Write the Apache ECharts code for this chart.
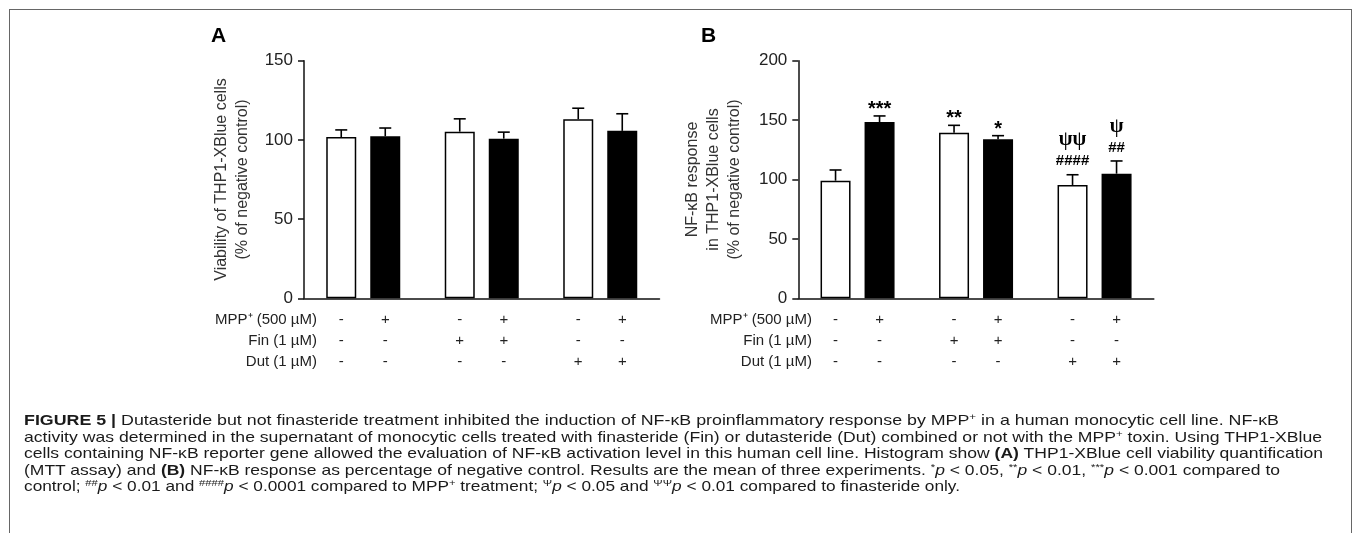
<!DOCTYPE html>
<html lang="en">
<head>
  <meta charset="UTF-8">
  <title>Figure 5</title>
  <style>
    html, body { margin: 0; padding: 0; background: #fff; }
    #wrap { position: relative; width: 1355px; height: 533px; overflow: hidden; }
    #chart { position: absolute; left: 0; top: 0; width: 1355px; height: 533px; }
    #frame { position: absolute; left: 9px; top: 9px; width: 1341px; height: 600px; border: 1.5px solid #666; pointer-events: none; }
    #caption { position: absolute; left: 24px; top: 0; font-family: 'Liberation Sans Narrow', 'Liberation Sans', Arial, sans-serif; font-size: 15px; color: #1a1a1a; }
    #caption .ln { position: absolute; left: 0; white-space: nowrap; transform-origin: 0 50%; line-height: 16px; }
    #caption sup { font-size: 0.65em; line-height: 0; vertical-align: 0; position: relative; top: -0.5em; }
  </style>
</head>
<body>
  <div id="wrap">
    <div id="chart"></div>
    <div id="frame"></div>
    <div id="caption"></div>
  </div>

  <script src="https://cdn.jsdelivr.net/npm/echarts@6.0.0/dist/echarts.min.js"></script>
  <script>
    // groups on the x axis (white bar = no MPP+, black bar = MPP+)
    var groups = ['Control', 'Fin', 'Dut'];

    // treatment table under the bars, one entry per bar
    var mppSigns = ['-', '+', '-', '+', '-', '+'];
    var finSigns = ['-', '-', '+', '+', '-', '-'];
    var dutSigns = ['-', '-', '-', '-', '+', '+'];
    var rowLabels = ['MPP\u207a (500 \u00b5M)', 'Fin (1 \u00b5M)', 'Dut (1 \u00b5M)'];

    // panel A: viability (% of negative control)
    var viaCtrl = [101.8, 105.2, 113.1];
    var viaCtrlErr = [4.5, 8.1, 6.9];
    var viaMpp = [102.3, 100.8, 105.7];
    var viaMppErr = [5.2, 4.1, 10.8];

    // panel B: NF-kB response (% of negative control)
    var nfCtrl = [99.0, 139.4, 95.4];
    var nfCtrlErr = [9.0, 6.2, 8.6];
    var nfMpp = [148.4, 133.8, 104.9];
    var nfMppErr = [5.1, 3.1, 10.7];

    // significance marks in panel B
    var starCtrl = ['', '**', ''];
    var starMpp = ['***', '*', ''];
    var psiCtrl = ['', '', '\u03c8\u03c8'];
    var psiMpp = ['', '', '\u03c8'];
    var hashCtrl = ['', '', '####'];
    var hashMpp = ['', '', '##'];

    var ticksA = [0, 150, 50];
    var ticksB = [0, 200, 50];

    var BAR_W = 30;
    var GAP = 0.467;
    var OFFSET = BAR_W * (1 + GAP) / 2;
    var ROW_DY = [22, 43, 64];
    var FONT = "'Liberation Sans', Arial, sans-serif";

    var RICH = {
      star: { fontFamily: FONT, fontSize: 20, fontWeight: 'bold', color: '#111', lineHeight: 21 },
      psi: { fontFamily: "'Liberation Serif', 'DejaVu Serif', serif", fontSize: 20, fontWeight: 'bold', color: '#111', lineHeight: 21 },
      hash: { fontFamily: FONT, fontSize: 15, fontWeight: 'bold', color: '#111', lineHeight: 21 }
    };

    function markText(stars, psis, hashes, i) {
      if (stars[i]) return '{star|' + stars[i] + '}';
      if (psis[i]) return '{psi|' + psis[i] + '}\n{hash|' + hashes[i] + '}';
      return '';
    }

    function errorSeries(ax, vals, errs, side, marks) {
      return {
        type: 'custom',
        xAxisIndex: ax,
        yAxisIndex: ax,
        z: 5,
        silent: true,
        data: vals.map(function (v, i) { return [i, v, v + errs[i]]; }),
        encode: { x: 0, y: 2 },
        renderItem: function (params, api) {
          var i = params.dataIndex;
          var lo = api.coord([i, api.value(1)]);
          var hi = api.coord([i, api.value(2)]);
          var x = lo[0] + side * OFFSET;
          var kids = [
            { type: 'line', shape: { x1: x, y1: lo[1], x2: x, y2: hi[1] }, style: { stroke: '#000', lineWidth: 1.6 } },
            { type: 'line', shape: { x1: x - 6, y1: hi[1], x2: x + 6, y2: hi[1] }, style: { stroke: '#000', lineWidth: 1.6 } }
          ];
          var t = marks ? marks(i) : '';
          if (t) {
            var isStar = t.indexOf('{star') === 0;
            kids.push({
              type: 'text',
              x: x,
              y: hi[1] + (isStar ? 4 : -3),
              style: { text: t, rich: RICH, align: 'center', verticalAlign: 'bottom' }
            });
          }
          return { type: 'group', children: kids };
        }
      };
    }

    function signSeries(ax) {
      return {
        type: 'custom',
        xAxisIndex: ax,
        yAxisIndex: ax,
        silent: true,
        data: mppSigns.map(function (s, k) { return [Math.floor(k / 2), 0, k]; }),
        encode: { x: 0, y: 1 },
        renderItem: function (params, api) {
          var k = api.value(2);
          var p = api.coord([api.value(0), 0]);
          var x = p[0] + (k % 2 ? 1 : -1) * OFFSET;
          var rows = [mppSigns, finSigns, dutSigns];
          return {
            type: 'group',
            children: rows.map(function (r, j) {
              return {
                type: 'text',
                x: x,
                y: p[1] + ROW_DY[j],
                style: { text: r[k], fontFamily: FONT, fontSize: 15, fill: '#222', align: 'center', verticalAlign: 'middle' }
              };
            })
          };
        }
      };
    }

    function barSeries(ax, vals, filled) {
      return {
        type: 'bar',
        xAxisIndex: ax,
        yAxisIndex: ax,
        data: vals,
        barWidth: BAR_W,
        barGap: (GAP * 100) + '%',
        silent: true,
        itemStyle: { color: filled ? '#000' : '#fff', borderColor: '#000', borderWidth: 1.5 }
      };
    }

    function yAxisOf(grid, ticks, name, gap) {
      return {
        type: 'value',
        gridIndex: grid,
        min: ticks[0],
        max: ticks[1],
        interval: ticks[2],
        name: name,
        nameLocation: 'middle',
        nameRotate: 90,
        nameGap: gap,
        nameTextStyle: { fontFamily: FONT, fontSize: 16, color: '#333', lineHeight: 21 },
        axisLine: { show: true, lineStyle: { color: '#111', width: 1.5 } },
        axisTick: { show: true, length: 6, lineStyle: { color: '#111', width: 1.5 } },
        axisLabel: { fontFamily: FONT, fontSize: 17, color: '#222', margin: 11 },
        splitLine: { show: false }
      };
    }

    function xAxisOf(grid) {
      return {
        type: 'category',
        gridIndex: grid,
        data: groups,
        axisLine: { show: true, lineStyle: { color: '#111', width: 1.5 } },
        axisTick: { show: false },
        axisLabel: { show: false }
      };
    }

    function rowLabelGraphics(right) {
      return rowLabels.map(function (t, j) {
        return {
          type: 'text',
          x: right,
          y: 298.3 + ROW_DY[j],
          style: { text: t, fontFamily: FONT, fontSize: 15, fill: '#222', align: 'right', verticalAlign: 'middle' }
        };
      });
    }

    var chart = echarts.init(document.getElementById('chart'));

    var option = {
      animation: false,
      grid: [
        { left: 304, top: 60.7, width: 355.5, height: 237.6 },
        { left: 798.3, top: 60.7, width: 355.5, height: 237.6 }
      ],
      xAxis: [xAxisOf(0), xAxisOf(1)],
      yAxis: [
        yAxisOf(0, ticksA, 'Viability of THP1-XBlue cells\n(% of negative control)', 51),
        yAxisOf(1, ticksB, 'NF-\u03baB response\nin THP1-XBlue cells\n(% of negative control)', 53)
      ],
      graphic: [
        { type: 'text', x: 211, y: 36.7, style: { text: 'A', fontFamily: FONT, fontSize: 21, fontWeight: 'bold', fill: '#000', verticalAlign: 'middle' } },
        { type: 'text', x: 701, y: 36.7, style: { text: 'B', fontFamily: FONT, fontSize: 21, fontWeight: 'bold', fill: '#000', verticalAlign: 'middle' } }
      ].concat(rowLabelGraphics(317), rowLabelGraphics(812)),
      series: [
        barSeries(0, viaCtrl, false),
        barSeries(0, viaMpp, true),
        errorSeries(0, viaCtrl, viaCtrlErr, -1, null),
        errorSeries(0, viaMpp, viaMppErr, 1, null),
        signSeries(0),
        barSeries(1, nfCtrl, false),
        barSeries(1, nfMpp, true),
        errorSeries(1, nfCtrl, nfCtrlErr, -1, function (i) { return markText(starCtrl, psiCtrl, hashCtrl, i); }),
        errorSeries(1, nfMpp, nfMppErr, 1, function (i) { return markText(starMpp, psiMpp, hashMpp, i); }),
        signSeries(1)
      ]
    };

    chart.setOption(option);

    // figure caption, each line stretched to its width in the original
    var capLines = [
      '<b>FIGURE 5 |</b> Dutasteride but not finasteride treatment inhibited the induction of NF-\u03baB proinflammatory response by MPP<sup>+</sup> in a human monocytic cell line. NF-\u03baB',
      'activity was determined in the supernatant of monocytic cells treated with finasteride (Fin) or dutasteride (Dut) combined or not with the MPP<sup>+</sup> toxin. Using THP1-XBlue',
      'cells containing NF-\u03baB reporter gene allowed the evaluation of NF-\u03baB activation level in this human cell line. Histogram show <b>(A)</b> THP1-XBlue cell viability quantification',
      '(MTT assay) and <b>(B)</b> NF-\u03baB response as percentage of negative control. Results are the mean of three experiments. <sup>*</sup><i>p</i> &lt; 0.05, <sup>**</sup><i>p</i> &lt; 0.01, <sup>***</sup><i>p</i> &lt; 0.001 compared to',
      'control; <sup>##</sup><i>p</i> &lt; 0.01 and <sup>####</sup><i>p</i> &lt; 0.0001 compared to MPP<sup>+</sup> treatment; <sup>\u03a8</sup><i>p</i> &lt; 0.05 and <sup>\u03a8\u03a8</sup><i>p</i> &lt; 0.01 compared to finasteride only.'
    ];
    var capTops = [412, 428.5, 445, 461.5, 478];
    var capWidths = [1255, 1298, 1299, 1256, 936];

    var cap = document.getElementById('caption');
    capLines.forEach(function (html, i) {
      var d = document.createElement('div');
      d.className = 'ln';
      d.style.top = capTops[i] + 'px';
      d.innerHTML = html;
      cap.appendChild(d);
      var w = d.getBoundingClientRect().width;
      d.style.transform = 'scaleX(' + (capWidths[i] / w) + ')';
    });
  </script>
</body>
</html>
